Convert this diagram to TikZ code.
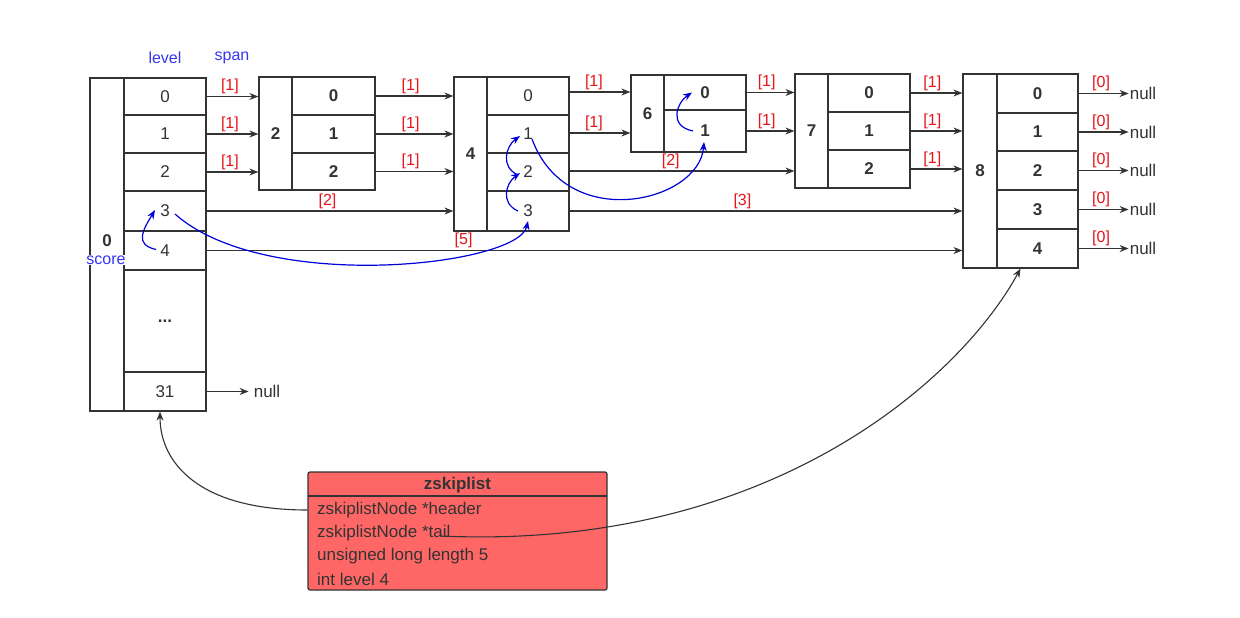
\documentclass[tikz,border=0pt]{standalone}
\usepackage{fontspec}
\setmainfont{Liberation Sans}
\usetikzlibrary{arrows.meta}
\definecolor{ink}{HTML}{333333}
\definecolor{lblred}{HTML}{E8141A}
\definecolor{lblblue}{HTML}{3535F0}
\definecolor{boxred}{HTML}{FF6666}
\begin{document}
\begin{tikzpicture}[x=1pt,y=-1pt,
  cell/.style={draw=ink,line width=1.2pt,fill=white,inner sep=0pt,text=ink,font=\fontsize{17}{20}\selectfont},
  link/.style={draw=ink,line width=1.1pt,-{Stealth[length=9pt,width=7pt]}},
  lbl/.style={text=lblred,font=\fontsize{16}{18}\selectfont,above,inner sep=2pt},
  blue/.style={draw=blue!85!black,line width=1.2pt,-{Stealth[length=9pt,width=7pt]}},
  conn/.style={draw=ink,line width=1.1pt,-{Stealth[length=9pt,width=7pt]}},
  ztxt/.style={anchor=west,text=ink,font=\fontsize{17}{20}\selectfont,inner sep=0pt}]
\newcommand\cell[6]{\node[cell,minimum width={#4pt-#2pt},minimum height={#5pt-#3pt}] (#1) at ({(#2+#4)/2},{(#3+#5)/2}) {#6};}
\useasboundingbox (0,0) rectangle (1240,618);
% header
\cell{h}{90}{78}{124}{411}{\raisebox{7pt}{\textbf{0}}}
\cell{h0}{124}{78}{206}{115}{0}
\cell{h1}{124}{115}{206}{153}{1}
\cell{h2}{124}{153}{206}{191}{2}
\cell{h3}{124}{191}{206}{231}{3}
\cell{h4}{124}{231}{206}{270}{4}
\cell{h5}{124}{270}{206}{372}{\textbf{...}}
\cell{h6}{124}{372}{206}{411}{31}
% node 2
\cell{a}{259}{77}{292}{190}{\textbf{2}}
\cell{a0}{292}{77}{375}{115}{\textbf{0}}
\cell{a1}{292}{115}{375}{153}{\textbf{1}}
\cell{a2}{292}{153}{375}{190}{\textbf{2}}
% node 4
\cell{b}{454}{77}{487}{231}{\textbf{4}}
\cell{b0}{487}{77}{569}{115}{0}
\cell{b1}{487}{115}{569}{153}{1}
\cell{b2}{487}{153}{569}{191}{2}
\cell{b3}{487}{191}{569}{231}{3}
% node 6
\cell{c}{631}{75}{664}{152}{\textbf{6}}
\cell{c0}{664}{75}{746}{110}{\textbf{0}}
\cell{c1}{664}{110}{746}{152}{\textbf{1}}
% node 7
\cell{d}{795}{74}{828}{188}{\textbf{7}}
\cell{d0}{828}{74}{910}{112}{\textbf{0}}
\cell{d1}{828}{112}{910}{150}{\textbf{1}}
\cell{d2}{828}{150}{910}{188}{\textbf{2}}
% node 8
\cell{e}{963}{74}{997}{268}{\textbf{8}}
\cell{e0}{997}{74}{1078}{113}{\textbf{0}}
\cell{e1}{997}{113}{1078}{151}{\textbf{1}}
\cell{e2}{997}{151}{1078}{190}{\textbf{2}}
\cell{e3}{997}{190}{1078}{229}{\textbf{3}}
\cell{e4}{997}{229}{1078}{268}{\textbf{4}}
% texts
\node[text=lblblue,font=\fontsize{16}{18}\selectfont] (tlevel) at (165,58) {level};
\node[text=lblblue,font=\fontsize{16}{18}\selectfont] (tspan) at (232,58) {span};
\node[text=lblblue,font=\fontsize{16}{18}\selectfont,fill=white,inner sep=1pt] (tscore) at (106,260) {score};
% links
\path[link] (h0.east) -- (h0.east -| a.west) node[lbl,pos=.45]{[1]};
\path[link] (h1.east) -- (h1.east -| a.west) node[lbl,pos=.45]{[1]};
\path[link] (h2.east) -- (h2.east -| a.west) node[lbl,pos=.45]{[1]};
\path[link] (a0.east) -- (a0.east -| b.west) node[lbl,pos=.45]{[1]};
\path[link] (a1.east) -- (a1.east -| b.west) node[lbl,pos=.45]{[1]};
\path[link] (a2.east) -- (a2.east -| b.west) node[lbl,pos=.45]{[1]};
\path[link] (h3.east) -- (h3.east -| b.west) node[lbl,pos=.49]{[2]};
\path[link] (h4.east) -- (h4.east -| e.west) node[lbl,pos=.34]{[5]};
\path[link] ([yshift=4pt]b0.east) -- ([yshift=4pt]b0.east -| c.west) node[lbl,pos=.4]{[1]};
\path[link] ([yshift=1pt]b1.east) -- ([yshift=1pt]b1.east -| c.west) node[lbl,pos=.4]{[1]};
\path[link] ([yshift=1pt]b2.east) -- ([yshift=1pt]b2.east -| d.west) node[lbl,pos=.45]{[2]};
\path[link] (b3.east) -- (b3.east -| e.west) node[lbl,pos=.44]{[3]};
\path[link] (c0.east) -- (c0.east -| d.west) node[lbl,pos=.42]{[1]};
\path[link] (c1.east) -- (c1.east -| d.west) node[lbl,pos=.42]{[1]};
\path[link] (d0.east) -- (d0.east -| e.west) node[lbl,pos=.42]{[1]};
\path[link] (d1.east) -- (d1.east -| e.west) node[lbl,pos=.42]{[1]};
\path[link] (d2.east) -- (d2.east -| e.west) node[lbl,pos=.42]{[1]};
\foreach \i in {0,...,4}{
  \coordinate (n\i) at ([xshift=50pt]e\i.east);
  \node[anchor=west,text=ink,font=\fontsize{17}{20}\selectfont,inner sep=1pt] (nt\i) at (n\i) {null};
  \path[link] (e\i.east) -- (n\i) node[lbl,pos=.45]{[0]};
}
\coordinate (n31) at ([xshift=42pt]h6.east);
\node[anchor=west,text=ink,font=\fontsize{17}{20}\selectfont,inner sep=1pt] (nt31) at ([xshift=4pt]n31) {null};
\path[link] (h6.east) -- (n31);
% blue search path
\path[blue] ([xshift=-9pt,yshift=1pt]h4.center) .. controls +(-22,-5) and +(-12,20) .. ([xshift=-10pt,yshift=1pt]h3.center);
\path[blue] ([xshift=10pt,yshift=-3pt]h3.center) .. controls +(90,80) and +(-10,45) .. ([xshift=0pt,yshift=-10pt]b3.center);
\path[blue] ([xshift=-10pt]b3.center) .. controls +(-18,-8) and +(-14,10) .. ([xshift=-8pt,yshift=-1pt]b2.center);
\path[blue] ([xshift=-10pt,yshift=-3pt]b2.center) .. controls +(-18,-8) and +(-14,10) .. ([xshift=-8pt,yshift=-2pt]b1.center);
\path[blue] ([xshift=4pt,yshift=-5pt]b1.center) .. controls +(35,95) and +(-5,60) .. ([xshift=-1pt,yshift=-11pt]c1.center);
\path[blue] ([xshift=-12pt]c1.center) .. controls +(-25,-5) and +(-15,10) .. ([xshift=-13pt,yshift=0pt]c0.center);
% zskiplist
\node[draw=ink,line width=1.2pt,fill=boxred,rounded corners=2pt,minimum width=299pt,minimum height=118pt,inner sep=0pt] (zb) at (457.5,531) {};
\draw[ink,line width=1.2pt] (308,496) -- (607,496);
\node[text=ink,font=\bfseries\fontsize{17}{20}\selectfont] (ztitle) at (457.5,485) {zskiplist};
\node[ztxt] (zh) at (317,510) {zskiplistNode *header};
\node[ztxt] (zt) at (317,533) {zskiplistNode *tail};
\node[ztxt] (zl) at (317,556) {unsigned long length 5};
\node[ztxt] (zv) at (317,579) {int level 4};
\path[conn] (zh.west -| zb.west) .. controls +(-110,0) and +(0,50) .. ([xshift=-5pt]h6.south);
\path[conn] ([xshift=-10pt,yshift=-3pt]zt.east) .. controls +(330,15) and +(-60,110) .. ([xshift=-17pt]e4.south);
\end{tikzpicture}
\end{document}
